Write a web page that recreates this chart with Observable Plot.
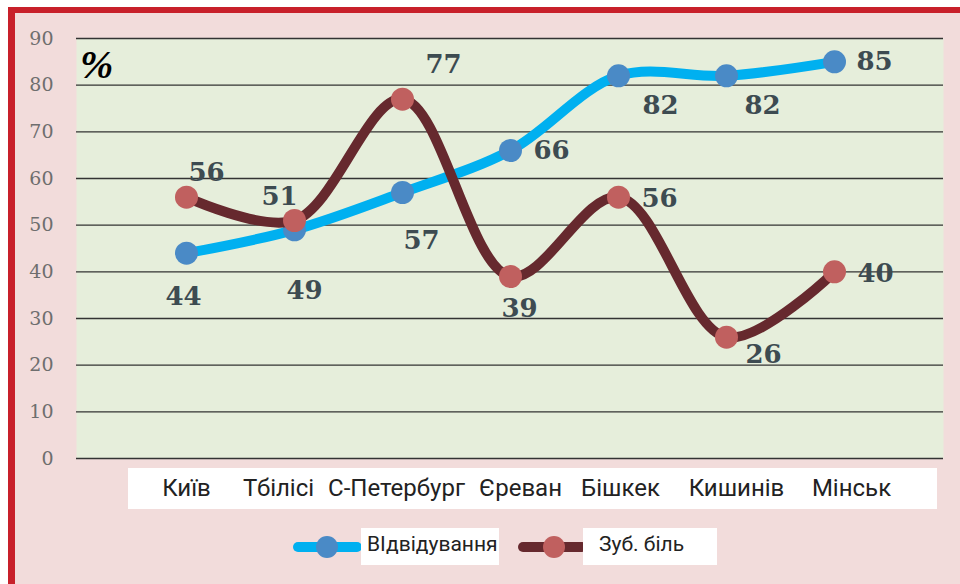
<!DOCTYPE html>
<html><head><meta charset="utf-8">
<script src="https://cdn.jsdelivr.net/npm/d3@7"></script>
<script src="https://cdn.jsdelivr.net/npm/@observablehq/plot@0.6"></script>
<style>
body{margin:0;background:#fff;}
#wrap{position:relative;width:960px;height:584px;overflow:hidden;background:#fff;}
#panel{position:absolute;left:8px;top:7px;width:980px;height:600px;background:#f2dcdb;border-top:6px solid #c8202a;border-left:7px solid #c8202a;}
#xbox{position:absolute;left:128px;top:468px;width:809px;height:41px;background:#fff;}
.lbox{position:absolute;top:528px;height:37px;background:#fff;font-family:Roboto,sans-serif;font-size:21px;color:#222;line-height:33px;box-sizing:border-box;}
#pct{position:absolute;left:80px;top:45px;font-family:"Liberation Serif",serif;font-weight:bold;font-style:italic;font-size:40px;color:#000;line-height:40px;}
#chart{position:absolute;left:0;top:0;}
#legsw{position:absolute;left:0;top:520px;}
</style></head>
<body>
<div id="wrap">
  <div id="panel"></div>
  <div id="xbox"></div>
  <div id="chart"></div>
  <div id="pct">%</div>
  <svg id="legsw" width="960" height="60"></svg>
  <div class="lbox" id="lb1" style="left:361px;width:138px;padding-left:6px;"></div>
  <div class="lbox" id="lb2" style="left:583px;width:134px;padding-left:16px;"></div>
</div>
<script>
const cities = ["Київ", "Тбілісі", "С-Петербург", "Єреван", "Бішкек", "Кишинів", "Мінськ"];
const visits = [44, 49, 57, 66, 82, 82, 85];
const toothache = [56, 51, 77, 39, 56, 26, 40];
const seriesNames = ["ВІдвідування", "Зуб. біль"];
const yTicks = [0, 10, 20, 30, 40, 50, 60, 70, 80, 90];

// label placement (layout only)
const visitsLabelOffsets = [[-3, 44], [10, 61], [19, 48], [41, 0], [42, 30], [36, 30], [40, 0]];
const toothLabelOffsets = [[20, -24], [-15, -24], [41, -34], [9, 32], [41, 2], [37, 18], [41, 2]];
const cityLabelShift = [0, -16, -6, 10, 2, 10, 17];

const blueLine = "#00b0f0", blueDot = "#4a8ac6";
const brownLine = "#66292e", brownDot = "#c0605f";
const labelColor = "#3d4b51";

const visitRows = cities.map((c, i) => ({city: c, value: visits[i]}));
const toothRows = cities.map((c, i) => ({city: c, value: toothache[i]}));

const labelFont = {fontFamily: "DejaVu Serif", fontWeight: "bold", fontSize: 26, fill: labelColor};
const labelMarks = [];
visitRows.forEach((r, i) => labelMarks.push(Plot.text([r], {x: "city", y: "value", text: d => String(d.value), dx: visitsLabelOffsets[i][0], dy: visitsLabelOffsets[i][1], ...labelFont})));
toothRows.forEach((r, i) => labelMarks.push(Plot.text([r], {x: "city", y: "value", text: d => String(d.value), dx: toothLabelOffsets[i][0], dy: toothLabelOffsets[i][1], ...labelFont})));
const cityMarks = cities.map((c, i) => Plot.text([c], {x: d => d, text: d => d, frameAnchor: "bottom", dy: 37, dx: cityLabelShift[i], fontFamily: "Roboto", fontSize: 24, fill: "#222"}));

const plot = Plot.plot({
  width: 960,
  height: 520,
  marginLeft: 76,
  marginRight: 17,
  marginTop: 38,
  marginBottom: 62,
  style: {background: "transparent", overflow: "visible"},
  x: {type: "point", domain: cities, padding: 1, axis: null},
  y: {domain: [0, 90], nice: false},
  marks: [
    Plot.frame({fill: "#e6eedb", stroke: null}),
    Plot.ruleY(yTicks, {stroke: "#333", strokeWidth: 1.4}),
    Plot.axisY({ticks: yTicks, tickSize: 0, tickPadding: 23, fontSize: 19, fontFamily: "DejaVu Serif", color: "#6e6e6e", label: null}),
    ...cityMarks,
    Plot.line(visitRows, {x: "city", y: "value", stroke: blueLine, strokeWidth: 10, curve: "catmull-rom", strokeLinecap: "round"}),
    Plot.dot(visitRows, {x: "city", y: "value", r: 11.5, fill: blueDot}),
    Plot.line(toothRows, {x: "city", y: "value", stroke: brownLine, strokeWidth: 10, curve: "catmull-rom", strokeLinecap: "round"}),
    Plot.dot(toothRows, {x: "city", y: "value", r: 11.5, fill: brownDot}),
    ...labelMarks
  ]
});
document.getElementById("chart").appendChild(plot);

// legend
document.getElementById("lb1").textContent = seriesNames[0];
document.getElementById("lb2").textContent = seriesNames[1];
const sw = d3.select("#legsw");
[[298, 357, 327, blueLine, blueDot], [523, 582, 554, brownLine, brownDot]].forEach(([x1, x2, cx, ls, df]) => {
  sw.append("line").attr("x1", x1).attr("x2", x2).attr("y1", 27).attr("y2", 27)
    .attr("stroke", ls).attr("stroke-width", 10).attr("stroke-linecap", "round");
  sw.append("circle").attr("cx", cx).attr("cy", 27).attr("r", 11).attr("fill", df);
});
</script>
</body></html>
